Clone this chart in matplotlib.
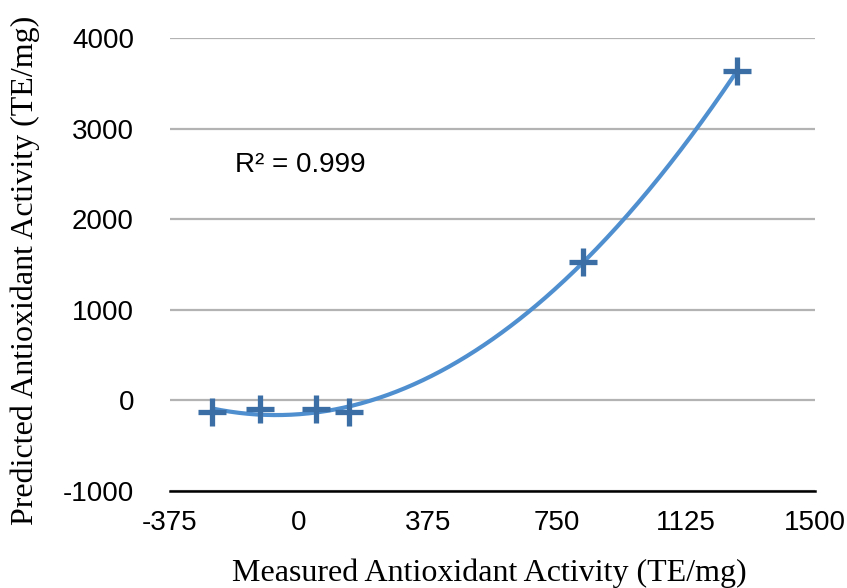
import numpy as np
import matplotlib.pyplot as plt

plt.rcParams["axes.unicode_minus"] = False

# measured vs predicted antioxidant activity (TE/mg)
measured = [-252, -113, 49, 145, 826, 1273]
predicted = [-132, -95, -95, -128, 1526, 3635]
x_ticks = [-375, 0, 375, 750, 1125, 1500]
y_ticks = [-1000, 0, 1000, 2000, 3000, 4000]

# second order trendline through the points
coef = np.polyfit(measured, predicted, 2)
xs = np.linspace(min(measured), max(measured), 300)
ys = np.polyval(coef, xs)

fig = plt.figure(figsize=(8.47, 5.88), dpi=100)
ax = fig.add_axes([0.2007, 0.165, 0.7613, 0.77])

ax.plot(xs, ys, color="#4f8fd0", lw=3, zorder=2)
ax.plot(measured, predicted, ls="none", marker="+", ms=20, mew=3.8,
        color="#3b6ea5", zorder=3)

ax.set_xlim(-375, 1500)
ax.set_ylim(-1000, 4000)
ax.set_xticks(x_ticks)
ax.set_yticks(y_ticks)
ax.tick_params(length=0, labelsize=20)
ax.tick_params(axis="x", pad=14)
ax.tick_params(axis="y", pad=26)
for lab in ax.get_xticklabels() + ax.get_yticklabels():
    lab.set_family("Liberation Sans")
ax.yaxis.grid(True, color="#b3b3b3", lw=1.6)
ax.set_axisbelow(True)
for s in ["left", "right", "top"]:
    ax.spines[s].set_visible(False)
ax.spines["bottom"].set_linewidth(1.8)
ax.spines["bottom"].set_zorder(4)

ax.set_xlabel("Measured Antioxidant Activity (TE/mg)", family="Liberation Serif",
              fontsize=23, va="center")
ax.set_ylabel("Predicted Antioxidant Activity (TE/mg)", family="Liberation Serif",
              fontsize=23, va="center")
ax.xaxis.set_label_coords(0.4946, -0.181)
ax.yaxis.set_label_coords(-0.225, 0.488)
ax.text(-186, 2600, "R² = 0.999", family="Liberation Sans", fontsize=20,
        va="center", ha="left")

fig.savefig("out.png", dpi=100)
